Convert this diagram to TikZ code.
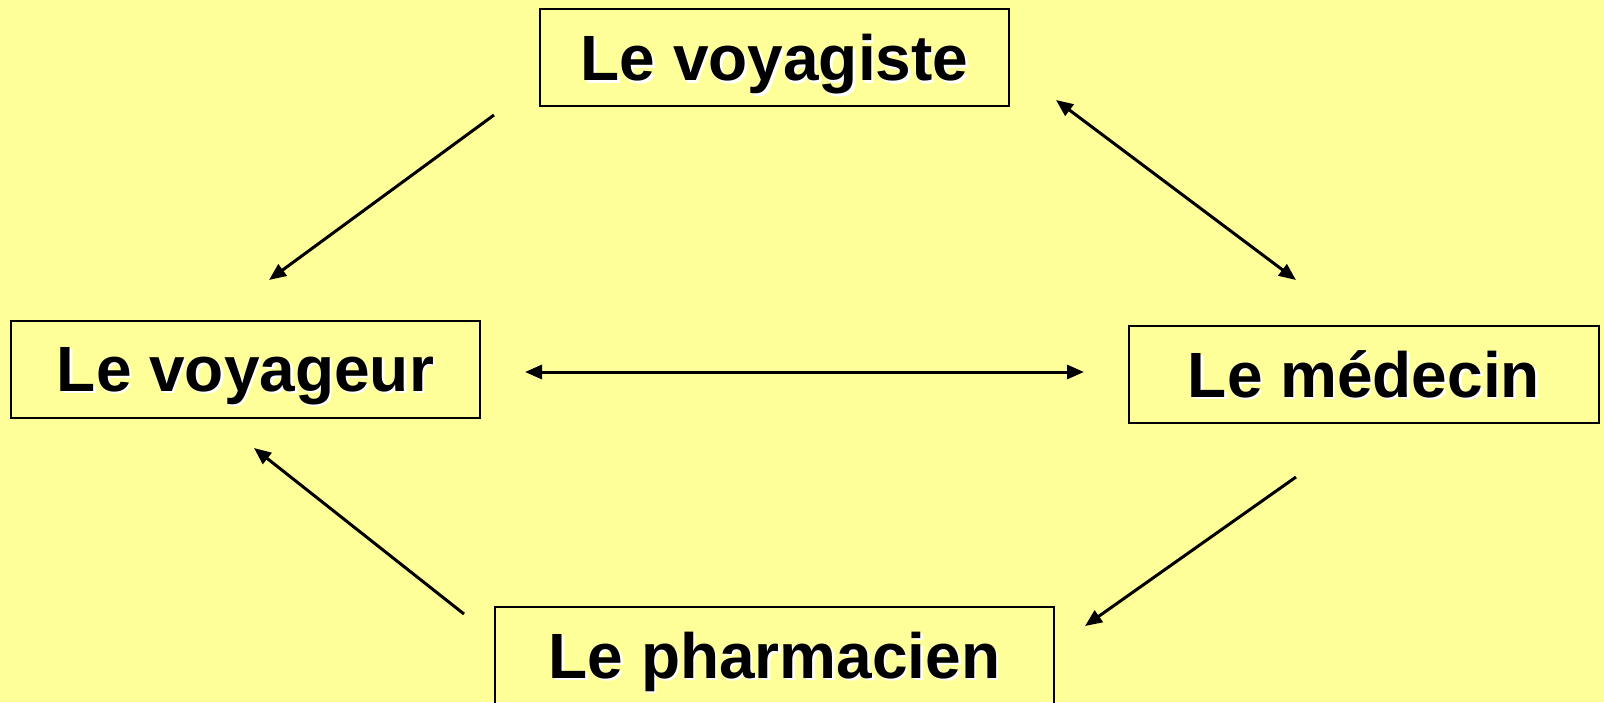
\documentclass[tikz,border=0pt]{standalone}
\usepackage{fontspec}
\setmainfont{Liberation Sans}
\usetikzlibrary{arrows.meta}
\definecolor{bg}{HTML}{FFFF99}
\newcommand{\shadowtxt}[1]{\rlap{\kern2.5pt\raisebox{-2.5pt}{\color{white}#1}}#1}
\begin{document}
\begin{tikzpicture}[x=1pt,y=-1pt,
  box/.style={draw=black,line width=2pt,inner sep=0pt,minimum width=#1,minimum height=97pt,
    text depth=0pt,font=\fontsize{64}{70}\selectfont\bfseries,text=black},
  conn/.style={line width=3pt,draw=black},
  tipa/.style={-{Triangle[length=17pt,width=14pt]}},
  tipb/.style={{Triangle[length=17pt,width=14pt]}-{Triangle[length=17pt,width=14pt]}}]
\fill[bg] (0,0) rectangle (1604,702);
\useasboundingbox (0,0) rectangle (1604,702);
\clip (0,0) rectangle (1604,702);
\node[box=469pt] (vgiste) at (774.5,57.5) {\shadowtxt{Le voyagiste}};
\node[box=469pt] (vgeur) at (245.5,369) {\shadowtxt{Le voyageur}};
\node[box=470pt] (med) at (1364,374) {\shadowtxt{Le médecin}};
\node[box=559pt] (pharm) at (774.5,655) {\shadowtxt{Le pharmacien}};
\coordinate (a1s) at (494,115); \coordinate (a1e) at (269,280);
\coordinate (a2s) at (1056,100); \coordinate (a2e) at (1296,280);
\coordinate (a3s) at (525,372); \coordinate (a3e) at (1084,372);
\coordinate (a4s) at (1296,477); \coordinate (a4e) at (1085,626);
\coordinate (a5s) at (464,614); \coordinate (a5e) at (254,448);
\draw[conn,tipa] (a1s) -- (a1e);
\draw[conn,tipb] (a2s) -- (a2e);
\draw[conn,tipb] (a3s) -- (a3e);
\draw[conn,tipa] (a4s) -- (a4e);
\draw[conn,tipa] (a5s) -- (a5e);
\end{tikzpicture}
\end{document}
